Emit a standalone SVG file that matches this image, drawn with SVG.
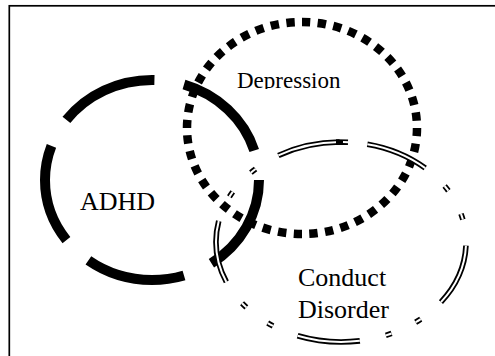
<svg xmlns="http://www.w3.org/2000/svg" width="495" height="356" viewBox="0 0 495 356">
<style>
.lbl{font-family:"Liberation Serif","Times New Roman",serif;fill:#000}
.adhd{fill:none;stroke:#000;stroke-width:10;stroke-dasharray:100 30}
.dep{fill:none;stroke:#000;stroke-width:8.5;stroke-dasharray:8.5 7.5}
.cdo{fill:none;stroke:#000;stroke-width:5.6;stroke-dasharray:63 26.5 6 26.5 6 26.5;stroke-dashoffset:128}
.cdi{fill:none;stroke:#fff;stroke-width:2;stroke-dasharray:63 26.5 6 26.5 6 26.5;stroke-dashoffset:128}
</style>
<defs>
<clipPath id="depclip"><rect x="200" y="60" width="180" height="29"/></clipPath>
</defs>
<rect id="frame" x="9.3" y="5.8" width="500" height="370" fill="#fff" stroke="#000" stroke-width="1.7"/>
<g id="adhd">
<ellipse class="adhd" cx="152" cy="180" rx="107" ry="100" pathLength="650"/>
<text class="lbl" x="80" y="210" font-size="26">ADHD</text>
</g>
<g id="depression">
<ellipse class="dep" cx="302" cy="128" rx="115" ry="106" pathLength="704"/>
<text class="lbl" x="237" y="88" font-size="23" clip-path="url(#depclip)">Depression</text>
</g>
<g id="conduct-disorder">
<path class="cdo" d="M341,142 A125,100 0 1 1 341,342 A125,100 0 1 1 341,142" pathLength="709"/>
<path class="cdi" d="M341,142 A125,100 0 1 1 341,342 A125,100 0 1 1 341,142" pathLength="709"/>
<path d="M336,142.1 L348,142.3" fill="none" stroke="#000" stroke-width="5.6"/>
<path d="M343,142.1 L349,142.3" fill="none" stroke="#fff" stroke-width="2"/>
<text class="lbl" x="298" y="286" font-size="26">Conduct</text>
<text class="lbl" x="298" y="318" font-size="26">Disorder</text>
</g>
<g id="connectors"></g>
</svg>
